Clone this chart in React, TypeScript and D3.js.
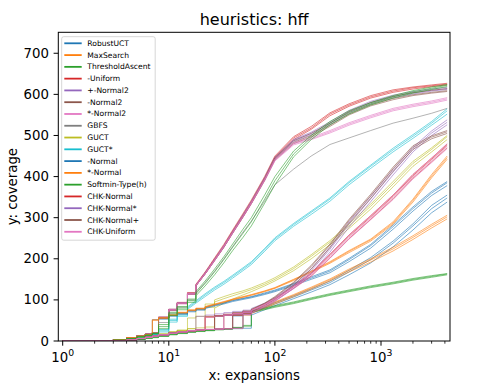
import React from "react";
import * as d3 from "d3";

// expansions at which every run was sampled
const expansions = [1, 3, 4, 5, 6, 7, 8, 10, 12, 15, 18, 22, 27, 33, 40, 50, 60, 80, 100, 150, 220, 330, 500, 800, 1300, 2000, 3000, 4200];

// coverage per run (3 runs per configuration, GBFS is deterministic)
const robustUCT = [
  [0, 0, 3, 6, 9, 12, 15, 19, 22, 25, 27, 28, 29, 30, 61, 64, 68, 80, 90, 107, 124, 142, 168, 198, 238, 280, 322, 348],
  [0, 0, 3, 6, 9, 12, 15, 19, 22, 25, 27, 28, 60, 62, 64, 67, 71, 82, 93, 110, 127, 146, 172, 203, 243, 285, 330, 355],
  [0, 0, 3, 5, 8, 11, 14, 18, 21, 24, 26, 27, 28, 29, 30, 31, 63, 76, 86, 103, 119, 137, 161, 190, 229, 270, 312, 338],
];
const maxSearch = [
  [0, 0, 3, 6, 9, 12, 15, 19, 22, 25, 27, 28, 29, 62, 64, 66, 69, 81, 93, 111, 129, 149, 172, 197, 224, 252, 280, 302],
  [0, 0, 3, 6, 9, 12, 15, 19, 22, 25, 27, 28, 29, 30, 31, 63, 67, 79, 90, 108, 126, 146, 168, 192, 219, 247, 275, 297],
  [0, 0, 3, 6, 9, 12, 15, 19, 22, 25, 27, 60, 62, 64, 66, 68, 71, 83, 95, 113, 131, 151, 175, 200, 228, 256, 284, 306],
];
const thresholdAscent = [
  [0, 0, 2, 4, 7, 9, 12, 16, 19, 22, 24, 26, 28, 30, 33, 38, 72, 78, 84, 93, 103, 113, 122, 132, 141, 150, 157, 163],
  [0, 0, 2, 4, 6, 8, 11, 15, 18, 21, 23, 25, 27, 29, 32, 36, 70, 76, 82, 91, 101, 111, 120, 130, 139, 148, 155, 161],
  [0, 0, 2, 4, 7, 9, 12, 16, 19, 22, 24, 26, 28, 30, 33, 70, 74, 80, 86, 95, 105, 115, 124, 134, 143, 152, 159, 164],
];
const uniform = [
  [0, 3, 8, 13, 17, 20, 58, 77, 94, 118, 138, 168, 202, 235, 270, 310, 343, 400, 450, 497, 522, 555, 577, 597, 611, 618, 623, 627],
  [0, 3, 8, 13, 17, 20, 56, 75, 91, 114, 134, 163, 196, 228, 263, 302, 335, 392, 443, 490, 515, 548, 571, 591, 605, 613, 619, 623],
  [0, 3, 8, 12, 16, 19, 57, 76, 92, 116, 136, 166, 199, 232, 267, 306, 339, 396, 447, 494, 518, 552, 574, 594, 608, 616, 621, 625],
];
const plusNormal2 = [
  [0, 3, 8, 13, 17, 20, 58, 77, 93, 116, 136, 166, 199, 232, 267, 307, 340, 397, 447, 490, 508, 533, 561, 583, 598, 607, 613, 617],
  [0, 3, 8, 13, 17, 20, 56, 75, 91, 114, 134, 163, 196, 228, 263, 302, 335, 392, 442, 485, 502, 527, 555, 577, 592, 601, 608, 612],
  [0, 3, 8, 12, 16, 19, 57, 76, 92, 115, 135, 165, 198, 230, 265, 305, 338, 395, 445, 488, 505, 530, 558, 580, 595, 604, 610, 614],
];
const minusNormal2 = [
  [0, 3, 8, 13, 17, 20, 58, 77, 93, 116, 136, 166, 199, 231, 266, 306, 339, 396, 446, 487, 505, 530, 558, 580, 595, 604, 610, 614],
  [0, 3, 8, 13, 17, 20, 57, 76, 92, 115, 135, 164, 197, 229, 264, 303, 336, 393, 443, 483, 500, 525, 553, 575, 590, 599, 605, 609],
  [0, 3, 8, 12, 16, 19, 56, 75, 91, 114, 134, 163, 195, 228, 262, 301, 334, 390, 440, 480, 497, 522, 550, 572, 587, 597, 603, 607],
];
const starNormal2 = [
  [0, 3, 8, 13, 17, 20, 58, 77, 93, 116, 136, 166, 198, 231, 265, 305, 338, 394, 443, 482, 495, 512, 531, 549, 566, 576, 584, 592],
  [0, 3, 8, 13, 17, 20, 56, 75, 91, 114, 134, 163, 195, 228, 262, 301, 334, 390, 438, 477, 490, 506, 525, 543, 560, 570, 578, 586],
  [0, 3, 8, 12, 16, 19, 57, 76, 92, 115, 135, 164, 197, 230, 264, 303, 336, 392, 440, 480, 492, 509, 528, 546, 563, 573, 581, 589],
];
const gbfs = [
  [0, 2, 7, 11, 15, 18, 45, 68, 82, 100, 117, 142, 170, 200, 230, 265, 292, 340, 380, 418, 450, 478, 494, 512, 530, 542, 554, 566],
];
const guct = [
  [0, 2, 6, 10, 13, 15, 17, 22, 26, 30, 60, 82, 95, 103, 110, 118, 125, 138, 150, 176, 206, 240, 280, 328, 382, 432, 466, 497],
  [0, 2, 6, 10, 13, 15, 17, 22, 26, 30, 32, 34, 80, 92, 102, 112, 120, 134, 146, 171, 200, 234, 274, 321, 375, 425, 460, 490],
  [0, 2, 6, 10, 13, 15, 17, 22, 26, 56, 78, 90, 100, 108, 115, 122, 129, 142, 154, 180, 210, 244, 285, 333, 388, 437, 470, 500],
];
const guctStar = [
  [0, 2, 6, 10, 13, 16, 25, 50, 63, 80, 95, 112, 128, 142, 157, 175, 190, 222, 248, 283, 313, 345, 385, 425, 465, 498, 530, 560],
  [0, 2, 6, 10, 13, 16, 22, 46, 60, 77, 92, 108, 124, 138, 153, 171, 186, 218, 244, 279, 308, 340, 380, 420, 460, 493, 525, 552],
  [0, 2, 6, 10, 13, 16, 28, 53, 66, 83, 98, 115, 131, 145, 160, 178, 193, 225, 251, 286, 316, 348, 388, 428, 469, 502, 534, 565],
];
const minusNormal = [
  [0, 3, 8, 12, 16, 20, 55, 62, 67, 73, 77, 81, 87, 92, 98, 103, 107, 115, 122, 138, 153, 170, 198, 232, 278, 322, 360, 385],
  [0, 3, 8, 12, 16, 20, 53, 60, 65, 71, 75, 79, 85, 90, 96, 101, 105, 113, 120, 135, 150, 166, 193, 226, 272, 316, 354, 378],
  [0, 3, 8, 12, 16, 52, 56, 63, 68, 74, 78, 82, 88, 93, 99, 104, 108, 117, 124, 140, 156, 173, 201, 235, 282, 326, 364, 388],
];
const starNormal = [
  [0, 3, 8, 12, 16, 52, 57, 64, 70, 76, 80, 84, 90, 96, 102, 108, 113, 122, 130, 150, 170, 193, 220, 248, 290, 345, 405, 450],
  [0, 3, 8, 12, 16, 50, 55, 62, 68, 74, 78, 82, 88, 94, 100, 106, 111, 120, 128, 147, 167, 189, 215, 243, 284, 338, 397, 442],
  [0, 3, 8, 12, 16, 20, 56, 63, 69, 75, 79, 83, 89, 95, 101, 107, 112, 121, 129, 149, 169, 191, 218, 246, 287, 342, 401, 446],
];
const softmin = [
  [0, 2, 6, 10, 14, 18, 40, 70, 84, 102, 120, 146, 175, 205, 236, 272, 300, 355, 400, 462, 500, 534, 560, 580, 597, 609, 618, 624],
  [0, 2, 6, 10, 14, 18, 30, 62, 76, 94, 110, 134, 161, 190, 220, 252, 280, 335, 380, 448, 490, 526, 552, 574, 591, 603, 612, 619],
  [0, 2, 6, 10, 14, 18, 35, 66, 80, 98, 115, 140, 168, 198, 228, 262, 290, 345, 390, 455, 495, 530, 556, 577, 594, 606, 615, 622],
];
const chkNormal = [
  [0, 0, 3, 6, 9, 12, 15, 19, 22, 25, 27, 28, 60, 63, 66, 70, 74, 88, 102, 132, 163, 208, 255, 302, 352, 402, 442, 476],
  [0, 0, 3, 6, 9, 12, 15, 19, 22, 25, 27, 28, 29, 30, 62, 66, 70, 84, 98, 128, 158, 202, 249, 296, 346, 396, 436, 470],
  [0, 0, 3, 6, 9, 12, 15, 19, 22, 25, 27, 58, 62, 65, 68, 72, 76, 90, 104, 134, 166, 211, 258, 305, 355, 405, 445, 479],
];
const chkNormalStar = [
  [0, 0, 3, 6, 9, 12, 15, 19, 22, 25, 27, 28, 29, 62, 65, 69, 73, 87, 101, 133, 171, 223, 284, 346, 411, 466, 506, 532],
  [0, 0, 3, 6, 9, 12, 15, 19, 22, 25, 27, 28, 29, 30, 31, 64, 68, 82, 96, 128, 165, 216, 277, 339, 404, 460, 500, 526],
  [0, 0, 3, 6, 9, 12, 15, 19, 22, 25, 60, 63, 66, 69, 72, 75, 79, 92, 105, 137, 176, 228, 290, 352, 417, 471, 511, 538],
];
const chkNormalPlus = [
  [0, 0, 3, 6, 9, 12, 15, 19, 22, 25, 27, 28, 61, 64, 68, 72, 76, 91, 106, 141, 181, 233, 293, 353, 419, 471, 496, 509],
  [0, 0, 3, 6, 9, 12, 15, 19, 22, 25, 27, 28, 29, 30, 63, 67, 71, 86, 101, 136, 175, 227, 287, 347, 413, 466, 492, 505],
  [0, 0, 3, 6, 9, 12, 15, 19, 22, 25, 27, 59, 62, 65, 69, 73, 77, 92, 108, 143, 184, 236, 296, 357, 423, 475, 499, 512],
];
const chkUniform = [
  [0, 0, 3, 6, 9, 12, 15, 19, 22, 25, 27, 28, 29, 63, 66, 70, 74, 89, 103, 133, 165, 210, 258, 305, 355, 405, 445, 480],
  [0, 0, 3, 6, 9, 12, 15, 19, 22, 25, 27, 58, 61, 64, 67, 71, 75, 88, 101, 130, 161, 205, 252, 299, 349, 399, 439, 474],
  [0, 0, 3, 6, 9, 12, 15, 19, 22, 25, 27, 28, 29, 30, 31, 65, 69, 84, 98, 127, 157, 201, 248, 295, 344, 394, 434, 468],
];

const seriesNames = [
  "RobustUCT", "MaxSearch", "ThresholdAscent", "-Uniform", "+-Normal2", "-Normal2", "*-Normal2",
  "GBFS", "GUCT", "GUCT*", "-Normal", "*-Normal", "Softmin-Type(h)",
  "CHK-Normal", "CHK-Normal*", "CHK-Normal+", "CHK-Uniform",
];
const seriesRuns = [
  robustUCT, maxSearch, thresholdAscent, uniform, plusNormal2, minusNormal2, starNormal2,
  gbfs, guct, guctStar, minusNormal, starNormal, softmin,
  chkNormal, chkNormalStar, chkNormalPlus, chkUniform,
];
// up to which expansion count the runs are drawn as steps
const stepUntil = [60, 60, 60, 18, 18, 18, 18, 18, 27, 15, 22, 22, 18, 60, 60, 60, 60];

const yTicks = [0, 100, 200, 300, 400, 500, 600, 700];
const xTicks = [1, 10, 100, 1000];

const W = 488;
const H = 391;
const left = 58.3;
const right = 450;
const top = 32.3;
const bottom = 341;
const font = "DejaVu Sans, sans-serif";
const labelSize = 13.3;

export default function App() {
  const x = d3.scaleLog().domain([0.909, 4470]).range([left, right]);
  const y = d3.scaleLinear().domain([0, 751]).range([bottom, top]);
  const color = d3.scaleOrdinal<number, string>().domain(d3.range(10)).range(d3.schemeCategory10);

  const line = d3.line<[number, number]>().x((d) => d[0]).y((d) => d[1]);

  const runPath = (ys: number[], until: number) => {
    const pts: [number, number][] = [];
    ys.forEach((v, i) => {
      const px = x(expansions[i]);
      if (i > 0 && expansions[i] <= until) pts.push([px, y(ys[i - 1])]);
      pts.push([px, y(v)]);
    });
    return line(pts) || "";
  };

  const minorTicks: number[] = [];
  [1, 10, 100, 1000].forEach((d) => {
    for (let k = 2; k <= 9; k++) {
      const v = d * k;
      if (v <= 4470) minorTicks.push(v);
    }
  });

  const legendTop = 43.3;
  const legendStep = 11.78;

  return (
    <svg width={W} height={H} style={{ position: "absolute", left: 0, top: 0, background: "#fff" }} fontFamily={font}>
      <defs>
        <clipPath id="plotArea">
          <rect x={left} y={top} width={right - left} height={bottom - top} />
        </clipPath>
      </defs>
      <rect x={0} y={0} width={W} height={H} fill="#fff" />

      <g clipPath="url(#plotArea)">
        {seriesRuns.map((runs, s) =>
          runs.map((ys, r) => (
            <path
              key={`${s}-${r}`}
              d={runPath(ys, stepUntil[s])}
              fill="none"
              stroke={color(s % 10)}
              strokeWidth={0.85}
              strokeOpacity={0.7}
            />
          ))
        )}
      </g>

      {/* frame */}
      <rect x={left} y={top} width={right - left} height={bottom - top} fill="none" stroke="#000" strokeWidth={1} />

      {/* y axis */}
      {yTicks.map((t) => (
        <g key={t}>
          <line x1={left - 4.7} x2={left} y1={y(t)} y2={y(t)} stroke="#000" strokeWidth={1} />
          <text x={left - 9.4} y={y(t)} textAnchor="end" dominantBaseline="central" fontSize={labelSize}>
            {t}
          </text>
        </g>
      ))}

      {/* x axis */}
      {xTicks.map((t, i) => (
        <g key={t}>
          <line x1={x(t)} x2={x(t)} y1={bottom} y2={bottom + 4.7} stroke="#000" strokeWidth={1} />
          <text x={x(t)} y={bottom + 20.5} textAnchor="middle" fontSize={labelSize}>
            <tspan>10</tspan>
            <tspan dy={-6} fontSize={9.3}>{i}</tspan>
          </text>
        </g>
      ))}
      {minorTicks.map((t) => (
        <line key={t} x1={x(t)} x2={x(t)} y1={bottom} y2={bottom + 2.7} stroke="#000" strokeWidth={0.8} />
      ))}

      <text x={(left + right) / 2} y={380} textAnchor="middle" fontSize={labelSize}>
        x: expansions
      </text>
      <text
        transform={`translate(16.5,${(top + bottom) / 2}) rotate(-90)`}
        textAnchor="middle"
        fontSize={labelSize}
      >
        y: coverage
      </text>
      <text x={(left + right) / 2} y={24.5} textAnchor="middle" fontSize={16}>
        heuristics: hff
      </text>

      {/* legend */}
      <rect x={61.7} y={36.7} width={93.5} height={203.5} rx={2} fill="#fff" fillOpacity={0.8} stroke="#ccc" strokeWidth={0.8} />
      {seriesNames.map((name, i) => (
        <g key={name}>
          <line
            x1={64.3}
            x2={81.7}
            y1={legendTop + i * legendStep}
            y2={legendTop + i * legendStep}
            stroke={color(i % 10)}
            strokeWidth={1.8}
          />
          <text x={87.3} y={legendTop + i * legendStep} dominantBaseline="central" fontSize={7.6}>
            {name}
          </text>
        </g>
      ))}
    </svg>
  );
}
